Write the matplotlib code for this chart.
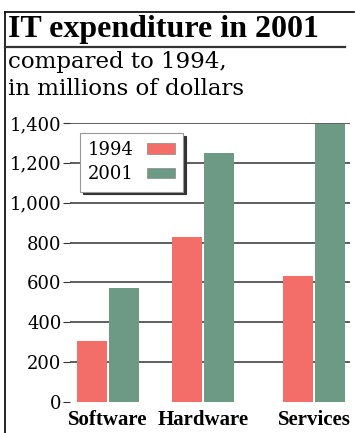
import numpy as np
import matplotlib.pyplot as plt
from matplotlib.patches import Patch
from matplotlib.lines import Line2D

# data
categories = ["Software", "Hardware", "Services"]
spend_1994 = [305, 830, 630]
spend_2001 = [570, 1250, 1395]
yticks = [0, 200, 400, 600, 800, 1000, 1200, 1400]
ytick_labels = ["0", "200", "400", "600", "800", "1,000", "1,200", "1,400"]

red = "#f36d69"
green = "#6d9a85"
serif = "Liberation Serif"
wide = "DejaVu Serif"

W, H = 355, 433
fig = plt.figure(figsize=(W / 100, H / 100), dpi=100)

def fx(px):
    return px / W

def fy(px):
    return 1 - px / H

# outer frame (top and left) and title rule
fig.add_artist(Line2D([fx(5), fx(354)], [fy(12), fy(12)], color="black", lw=1.2))
fig.add_artist(Line2D([fx(5), fx(5)], [fy(12), fy(433)], color="black", lw=1.2))
fig.add_artist(Line2D([fx(5), fx(345)], [fy(47), fy(47)], color="#333333", lw=1.6))

fig.text(fx(8), fy(37), "IT expenditure in 2001", family=serif, weight="bold",
         fontsize=23, va="baseline", ha="left")
fig.text(fx(8), fy(68), "compared to 1994,", family=wide, fontsize=16.5,
         va="baseline", ha="left")
fig.text(fx(8), fy(95), "in millions of dollars", family=wide, fontsize=16.5,
         va="baseline", ha="left")

ax = fig.add_axes([fx(70), fy(402), fx(350) - fx(70), fy(123) - fy(402)])

pos = np.array([0, 1, 2.17])
bw = 0.316
ax.bar(pos - 0.167, spend_1994, bw, color=red, zorder=2)
ax.bar(pos + 0.167, spend_2001, bw, color=green, zorder=2)

ax.set_xlim(-0.4, 2.55)
ax.set_ylim(0, 1400)
ax.set_yticks(yticks)
ax.set_yticklabels(ytick_labels, family=wide, fontsize=13)
ax.set_xticks(pos)
ax.set_xticklabels(categories, family=serif, fontsize=15, weight="bold")
ax.tick_params(axis="y", length=5, color="#333333", pad=1)
ax.tick_params(axis="x", length=0, pad=6)
for s in ax.spines.values():
    s.set_visible(False)
for v in yticks[1:]:
    ax.axhline(v, color="#333333", lw=1.1, zorder=1)

handles = [Patch(facecolor=red, edgecolor="#888888", lw=0.5),
           Patch(facecolor=green, edgecolor="#888888", lw=0.5)]
leg = fig.legend(handles, ["1994", "2001"], loc="upper left",
                 bbox_to_anchor=(fx(80), fy(133)), bbox_transform=fig.transFigure,
                 markerfirst=False, prop={"family": wide, "size": 13},
                 fancybox=False, frameon=True, framealpha=1, edgecolor="#999999",
                 shadow={"color": "#333333", "alpha": 1},
                 handlelength=1.55, handleheight=0.55, handletextpad=0.7,
                 labelspacing=0.35, borderaxespad=0, borderpad=0.45)
leg.get_frame().set_linewidth(0.8)

fig.savefig("out.png", dpi=100)
